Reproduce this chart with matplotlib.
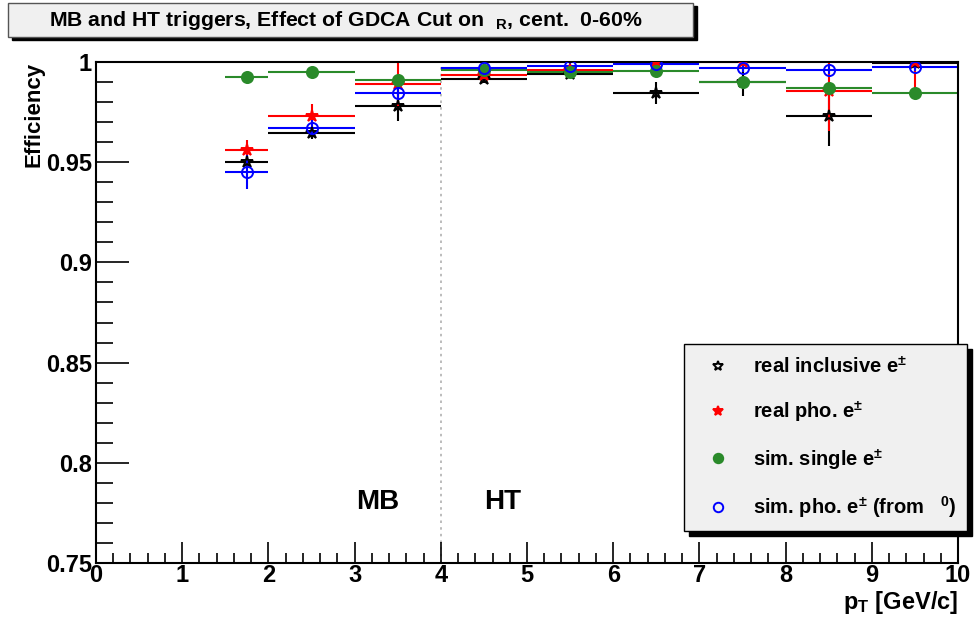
import numpy as np
import matplotlib.pyplot as plt
from matplotlib.patches import Rectangle
from matplotlib.ticker import MultipleLocator

plt.rcParams["font.family"] = ["Liberation Sans", "DejaVu Sans"]
plt.rcParams["font.weight"] = "bold"
plt.rcParams["mathtext.fontset"] = "custom"
plt.rcParams["mathtext.rm"] = "Liberation Sans:bold"
plt.rcParams["mathtext.bf"] = "Liberation Sans:bold"
plt.rcParams["mathtext.default"] = "bf"

# bins in pT [GeV/c]
bin_lo = np.array([1.5, 2, 3, 4, 5, 6, 7, 8, 9])
bin_hi = np.array([2, 3, 4, 5, 6, 7, 8, 9, 10])

real_incl = [0.950, 0.9647, 0.9782, 0.9917, 0.9942, 0.9844, 0.9900, 0.9732, 0.9995]
real_incl_err = [0.003, 0.003, 0.0076, 0.002, 0.002, 0.0055, 0.007, 0.015, 0.003]

real_pho = [0.956, 0.9729, 0.9889, 0.9937, 0.9960, 0.9998, 1.0, 0.9855, 1.0]
real_pho_err = [0.005, 0.006, 0.011, 0.002, 0.002, 0.002, 0.002, 0.020, 0.014]

sim_single = [0.9924, 0.9949, 0.9912, 0.9958, 0.9949, 0.9955, 0.9902, 0.9872, 0.9844]
sim_single_err = [0.001, 0.001, 0.001, 0.001, 0.001, 0.001, 0.001, 0.001, 0.001]

sim_pho = [0.945, 0.9672, 0.9844, 0.9970, 0.9979, 0.9988, 0.9970, 0.9962, 0.9973]
sim_pho_err = [0.0085, 0.004, 0.005, 0.002, 0.002, 0.002, 0.002, 0.002, 0.002]

series = [
    ("real inclusive e$^{\\pm}$", real_incl, real_incl_err, "black", "*", "none"),
    ("real pho. e$^{\\pm}$", real_pho, real_pho_err, "red", "*", "red"),
    ("sim. single e$^{\\pm}$", sim_single, sim_single_err, "#2a8a2a", "o", "#2a8a2a"),
    ("sim. pho. e$^{\\pm}$ (from   $^{0}$)", sim_pho, sim_pho_err, "blue", "o", "none"),
]

fig = plt.figure(figsize=(9.74, 6.17), dpi=100)
ax = fig.add_axes([96 / 974, 1 - 563 / 617, 862 / 974, 501 / 617])

x = (bin_lo + bin_hi) / 2
xerr = (bin_hi - bin_lo) / 2

handles = []
for label, y, yerr, color, marker, face in series:
    ax.errorbar(x, y, xerr=xerr, yerr=yerr, fmt="none", ecolor=color,
                elinewidth=1.5, capsize=0, zorder=2)
    ms = 9 if marker == "*" else 8
    h, = ax.plot(x, y, linestyle="none", marker=marker, markersize=ms,
                 markerfacecolor=face, markeredgecolor=color,
                 markeredgewidth=1.4, label=label, zorder=3)
    handles.append(h)

ax.axvline(4, color="#b0b0b0", linestyle=(0, (1.5, 2.5)), linewidth=1.2, zorder=1)

ax.text(3.27, 0.7805, "MB", fontsize=20, fontweight="bold", ha="center", va="center")
ax.text(4.72, 0.7805, "HT", fontsize=20, fontweight="bold", ha="center", va="center")

ax.set_xlim(0, 10)
ax.set_ylim(0.75, 1.0)
ax.xaxis.set_major_locator(MultipleLocator(1))
ax.xaxis.set_minor_locator(MultipleLocator(0.2))
ax.yaxis.set_minor_locator(MultipleLocator(0.01))
ax.set_yticks([0.75, 0.8, 0.85, 0.9, 0.95, 1.0])
ax.set_yticklabels(["0.75", "0.8", "0.85", "0.9", "0.95", "1"])
ax.tick_params(axis="both", which="both", direction="in", top=False, right=False)
ax.tick_params(axis="x", which="major", length=15, width=1.2, labelsize=17, pad=1)
ax.tick_params(axis="x", which="minor", length=7.5, width=1.2)
ax.tick_params(axis="y", which="major", length=24, width=1.2, labelsize=17, pad=3)
ax.tick_params(axis="y", which="minor", length=12, width=1.2)
for lab in ax.get_xticklabels() + ax.get_yticklabels():
    lab.set_fontweight("bold")
for sp in ax.spines.values():
    sp.set_linewidth(1.5)

ax.set_ylabel("Efficiency", fontsize=16, fontweight="bold", loc="top", labelpad=1)
ax.set_xlabel("p$_{T}$ [GeV/c]", fontsize=17, fontweight="bold", loc="right", labelpad=1)

# title box with shadow
fig.patches.append(Rectangle((12 / 974, 1 - 40 / 617), 685 / 974, 34 / 617,
                             transform=fig.transFigure, facecolor="black",
                             edgecolor="black", zorder=5))
fig.patches.append(Rectangle((8 / 974, 1 - 37 / 617), 685 / 974, 34 / 617,
                             transform=fig.transFigure, facecolor="#f0f0f0",
                             edgecolor="#555555", linewidth=1, zorder=6))
fig.text(346 / 974, 1 - 20 / 617,
         "MB and HT triggers, Effect of GDCA Cut on  $_{R}$, cent.  0-60%",
         fontsize=15.3, fontweight="bold", ha="center", va="center", zorder=7)

# legend box with shadow
fig.patches.append(Rectangle((689 / 974, 1 - 536 / 617), 283 / 974, 187 / 617,
                             transform=fig.transFigure, facecolor="black",
                             edgecolor="black", zorder=5))
fig.patches.append(Rectangle((684 / 974, 1 - 531 / 617), 283 / 974, 187 / 617,
                             transform=fig.transFigure, facecolor="#f0f0f0",
                             edgecolor="black", linewidth=1, zorder=6))
leg = fig.legend(handles=handles, loc="center left",
                 bbox_to_anchor=(690 / 974, 1 - 438 / 617),
                 frameon=False, fontsize=14.5, labelspacing=1.12,
                 handlelength=1.0, handletextpad=1.25, markerscale=0.85)
leg.set_zorder(7)
for t in leg.get_texts():
    t.set_fontweight("bold")

fig.savefig("out.png", dpi=100)
